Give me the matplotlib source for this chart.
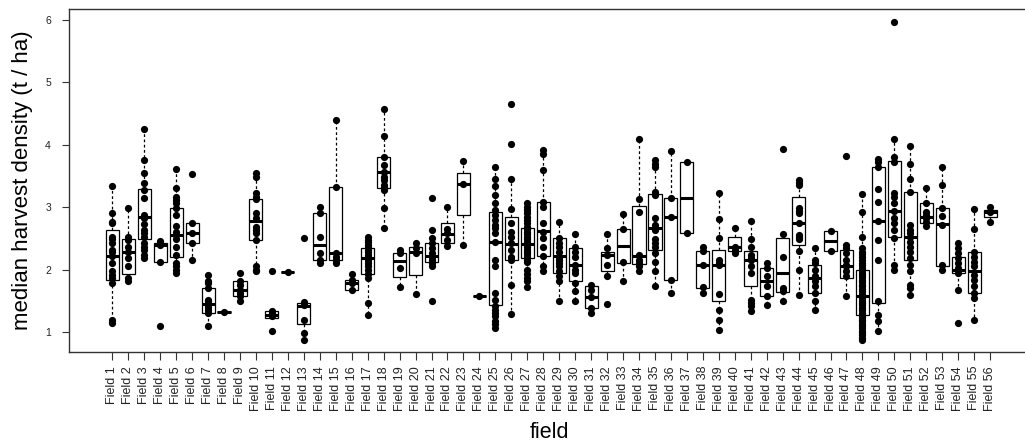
import matplotlib
matplotlib.use("Agg")
import matplotlib.pyplot as plt

plt.rcParams['font.family'] = ['Liberation Sans', 'DejaVu Sans']

fields = [f"Field {i}" for i in range(1, 57)]

q1 = [1.84, 1.93, 2.49, 2.13, 2.20, 2.43, 1.30, 1.32, 1.58, 2.47,
      1.23, 1.96, 1.13, 2.15, 2.16, 1.68, 1.93, 3.30, 1.88, 1.91,
      2.12, 2.43, 2.87, 1.58, 1.43, 2.15, 2.18, 2.22, 1.95, 1.81,
      1.38, 1.98, 2.10, 2.09, 2.32, 1.83, 2.58, 1.70, 1.49, 2.30,
      1.74, 1.57, 1.64, 2.39, 1.62, 2.30, 1.86, 1.27, 1.47, 2.53,
      2.15, 2.75, 2.06, 1.94, 1.62, 2.84]
med = [2.22, 2.29, 2.84, 2.39, 2.55, 2.59, 1.45, 1.32, 1.67, 2.78,
       1.28, 1.96, 1.42, 2.39, 2.26, 1.79, 2.18, 3.57, 2.14, 2.28,
       2.22, 2.57, 3.37, 1.58, 2.45, 2.41, 2.41, 2.62, 2.22, 2.08,
       1.56, 2.23, 2.38, 2.22, 2.66, 2.84, 3.15, 2.08, 2.07, 2.37,
       2.15, 1.82, 1.95, 2.75, 1.87, 2.46, 2.06, 1.57, 2.78, 2.94,
       2.52, 2.85, 2.73, 2.00, 1.97, 2.92]
q3 = [2.63, 2.49, 3.29, 2.43, 2.98, 2.75, 1.70, 1.32, 1.81, 3.13,
      1.34, 1.96, 1.47, 2.90, 3.33, 1.83, 2.34, 3.81, 2.27, 2.37,
      2.43, 2.75, 3.55, 1.58, 2.93, 2.85, 2.67, 3.09, 2.50, 2.34,
      1.74, 2.29, 2.65, 3.02, 3.21, 3.14, 3.72, 2.30, 2.32, 2.52,
      2.30, 2.02, 2.50, 3.16, 2.08, 2.62, 2.31, 2.00, 3.64, 3.74,
      3.25, 3.06, 2.99, 2.21, 2.28, 2.96]
whislo = [1.14, 1.81, 2.18, 2.13, 1.95, 2.15, 1.09, 1.32, 1.49, 1.97,
          1.23, 1.96, 0.88, 2.11, 2.11, 1.68, 1.27, 2.66, 1.72, 1.61,
          2.06, 2.38, 2.39, 1.58, 1.06, 1.29, 1.72, 1.97, 1.50, 1.50,
          1.30, 1.90, 1.81, 1.97, 1.74, 1.62, 2.58, 1.63, 1.04, 2.27,
          1.33, 1.43, 1.49, 1.60, 1.35, 2.30, 1.58, 0.87, 1.02, 2.00,
          1.59, 2.70, 2.00, 1.67, 1.19, 2.77]
whishi = [3.34, 2.99, 4.25, 2.46, 3.62, 2.75, 1.92, 1.32, 1.94, 3.55,
          1.34, 1.96, 1.48, 3.01, 4.39, 1.93, 2.53, 4.58, 2.31, 2.42,
          2.63, 3.00, 3.74, 1.58, 3.64, 3.46, 3.06, 3.92, 2.77, 2.57,
          1.76, 2.57, 2.89, 4.09, 3.76, 3.90, 3.72, 2.36, 3.23, 2.67,
          2.78, 2.10, 2.57, 3.44, 2.34, 2.62, 2.39, 3.21, 3.78, 4.10,
          3.98, 3.30, 3.64, 2.43, 2.97, 3.01]

points = [
    [3.34, 2.90, 2.77, 2.74, 2.53, 2.49, 2.43, 2.32, 2.28, 2.22, 2.10, 1.97, 1.91, 1.86, 1.79, 1.20, 1.14],
    [2.99, 2.53, 2.47, 2.37, 2.29, 2.18, 2.05, 1.86, 1.81],
    [4.25, 3.76, 3.55, 3.39, 3.28, 3.14, 2.88, 2.82, 2.73, 2.63, 2.58, 2.53, 2.42, 2.37, 2.31, 2.23, 2.18],
    [2.46, 2.41, 2.39, 2.13, 1.09],
    [3.62, 3.30, 3.17, 3.12, 3.06, 2.98, 2.88, 2.70, 2.61, 2.55, 2.49, 2.37, 2.23, 2.10, 2.05, 1.99, 1.95],
    [3.54, 2.74, 2.59, 2.43, 2.15],
    [1.92, 1.82, 1.79, 1.70, 1.52, 1.49, 1.45, 1.40, 1.35, 1.30, 1.09],
    [1.32],
    [1.94, 1.81, 1.75, 1.68, 1.63, 1.57, 1.49],
    [3.55, 3.49, 3.23, 3.17, 3.13, 2.90, 2.82, 2.69, 2.63, 2.58, 2.47, 2.05, 2.00, 1.97],
    [1.98, 1.34, 1.30, 1.25, 1.02],
    [1.96],
    [2.50, 1.48, 1.43, 1.19, 0.99, 0.88],
    [3.01, 2.90, 2.53, 2.26, 2.16, 2.11],
    [4.39, 3.33, 2.26, 2.21, 2.15, 2.11],
    [1.93, 1.84, 1.79, 1.68],
    [2.53, 2.48, 2.44, 2.40, 2.36, 2.32, 2.28, 2.24, 2.20, 2.18, 2.15, 2.10, 2.05, 1.99, 1.93, 1.86, 1.46, 1.27],
    [4.58, 4.14, 3.81, 3.68, 3.57, 3.49, 3.44, 3.36, 3.32, 3.28, 2.98, 2.66],
    [2.31, 2.26, 2.03, 1.72],
    [2.42, 2.34, 2.26, 1.61],
    [3.14, 2.63, 2.50, 2.42, 2.34, 2.26, 2.21, 2.15, 2.10, 2.06, 1.49],
    [3.00, 2.65, 2.58, 2.47, 2.38],
    [3.74, 3.37, 2.39],
    [1.58],
    [3.64, 3.46, 3.34, 3.20, 3.06, 2.96, 2.88, 2.79, 2.71, 2.66, 2.58, 2.45, 2.16, 2.05, 1.62, 1.51, 1.41, 1.35, 1.30, 1.25, 1.18, 1.13, 1.06],
    [4.65, 4.01, 3.46, 2.97, 2.74, 2.61, 2.53, 2.42, 2.31, 2.21, 2.15, 1.75, 1.29],
    [3.06, 3.01, 2.96, 2.90, 2.85, 2.79, 2.74, 2.69, 2.65, 2.61, 2.57, 2.53, 2.49, 2.45, 2.41, 2.37, 2.32, 2.29, 2.25, 2.21, 2.16, 2.12, 1.99, 1.93, 1.86, 1.81, 1.72],
    [3.92, 3.85, 3.60, 3.09, 3.01, 2.74, 2.61, 2.50, 2.37, 2.22, 2.05, 1.97],
    [2.77, 2.50, 2.42, 2.37, 2.29, 2.21, 2.15, 2.10, 2.05, 1.97, 1.89, 1.81, 1.50],
    [2.57, 2.37, 2.29, 2.21, 2.07, 1.99, 1.94, 1.79, 1.65, 1.50],
    [1.76, 1.67, 1.56, 1.38, 1.30],
    [2.57, 2.34, 2.23, 2.07, 1.90, 1.45],
    [2.89, 2.65, 2.13, 1.81],
    [4.09, 3.13, 2.92, 2.23, 2.15, 2.10, 2.05, 1.97],
    [3.76, 3.70, 3.65, 3.25, 3.20, 2.82, 2.71, 2.66, 2.63, 2.49, 2.42, 2.37, 2.26, 2.13, 1.97, 1.74],
    [3.90, 3.14, 2.84, 1.84, 1.62],
    [3.72, 2.58],
    [2.36, 2.30, 2.08, 1.72, 1.63],
    [3.23, 2.81, 2.50, 2.15, 2.10, 2.07, 1.61, 1.36, 1.19, 1.04],
    [2.67, 2.37, 2.32, 2.27],
    [2.78, 2.49, 2.37, 2.23, 2.18, 2.15, 2.05, 1.95, 1.52, 1.46, 1.41, 1.33],
    [2.10, 2.02, 1.90, 1.74, 1.57, 1.43],
    [3.94, 2.57, 2.21, 1.70, 1.65, 1.49],
    [3.44, 3.39, 3.36, 2.98, 2.94, 2.90, 2.75, 2.55, 2.52, 2.49, 2.30, 1.99, 1.60],
    [2.34, 2.15, 2.10, 1.99, 1.89, 1.81, 1.73, 1.63, 1.49, 1.35],
    [2.62, 2.30],
    [3.82, 2.39, 2.34, 2.26, 2.15, 2.07, 2.05, 1.97, 1.89, 1.58],
    [3.21, 2.93, 2.52, 2.34, 2.29, 2.25, 2.20, 2.16, 2.11, 2.07, 2.03, 1.99, 1.95, 1.92, 1.88, 1.84,
     1.80, 1.76, 1.73, 1.69, 1.65, 1.61, 1.57, 1.54, 1.50, 1.46, 1.43, 1.39, 1.35, 1.31, 1.28, 1.24,
     1.20, 1.17, 1.13, 1.09, 1.06, 1.02, 0.98, 0.95, 0.91, 0.87],
    [3.78, 3.73, 3.64, 3.29, 3.09, 2.78, 2.47, 2.16, 1.49, 1.27, 1.17, 1.02],
    [5.97, 4.10, 3.81, 3.73, 3.23, 3.17, 3.06, 2.94, 2.82, 2.74, 2.63, 2.50, 2.07, 2.00],
    [3.98, 3.70, 3.45, 3.25, 2.71, 2.63, 2.58, 2.52, 2.45, 2.37, 2.29, 2.18, 2.07, 1.97, 1.75, 1.70, 1.59],
    [3.30, 3.06, 2.93, 2.88, 2.82, 2.77, 2.70],
    [3.64, 3.36, 2.98, 2.86, 2.71, 2.07, 2.00],
    [2.43, 2.34, 2.26, 2.18, 2.10, 2.02, 1.95, 1.67, 1.15],
    [2.97, 2.65, 2.29, 2.21, 2.13, 2.05, 1.91, 1.83, 1.73, 1.62, 1.54, 1.19],
    [3.01, 2.93, 2.77],
]

y_ticks = [1, 2, 3, 4, 5, 6]

W, H = 1025, 447
fig = plt.figure(figsize=(W / 100, H / 100), dpi=100)
ax = fig.add_axes([69 / W, 1 - 352 / H, (1031 - 69) / W, 343 / H])

positions = list(range(1, len(fields) + 1))
stats = []
for i in range(len(fields)):
    stats.append(dict(med=med[i], q1=q1[i], q3=q3[i],
                      whislo=whislo[i], whishi=whishi[i], fliers=[]))

ax.bxp(stats, positions=positions, widths=0.82, showcaps=False,
       showfliers=False, patch_artist=True,
       boxprops=dict(facecolor='white', edgecolor='black', linewidth=0.9),
       medianprops=dict(color='black', linewidth=2.2, solid_capstyle='butt'),
       whiskerprops=dict(color='black', linewidth=0.9, linestyle=(0, (2.2, 2.0))),
       zorder=2)

for i, pts in enumerate(points):
    ax.scatter([positions[i]] * len(pts), pts, s=27, color='black',
               linewidths=0, zorder=3)

ax.set_xlim(-1.713, 58.56)
ax.set_ylim(0.68, 6.176)

ax.set_yticks(y_ticks)
ax.set_yticklabels([str(t) for t in y_ticks], fontsize=7.5, color='#222222')
ax.set_xticks(positions)
ax.set_xticklabels(fields, rotation=90, fontsize=9, color='#222222')
ax.tick_params(axis='y', direction='out', length=5, width=0.8, pad=8, color='#333333')
ax.tick_params(axis='x', direction='out', length=6, width=0.8, pad=4, color='#333333')

for side in ['left', 'bottom', 'top']:
    ax.spines[side].set_color('#333333')
    ax.spines[side].set_linewidth(1.0)
ax.spines['right'].set_visible(False)

ax.set_ylabel('median harvest density (t / ha)', fontsize=16)
ax.yaxis.label.set_va('center')
ax.yaxis.set_label_coords((23 - 69) / 962, 0.5)
ax.set_xlabel('field', fontsize=15.5)
ax.xaxis.label.set_va('center')
ax.xaxis.set_label_coords((550 - 69) / 962, (352 - 433) / 343)

fig.savefig('out.png', dpi=100)
